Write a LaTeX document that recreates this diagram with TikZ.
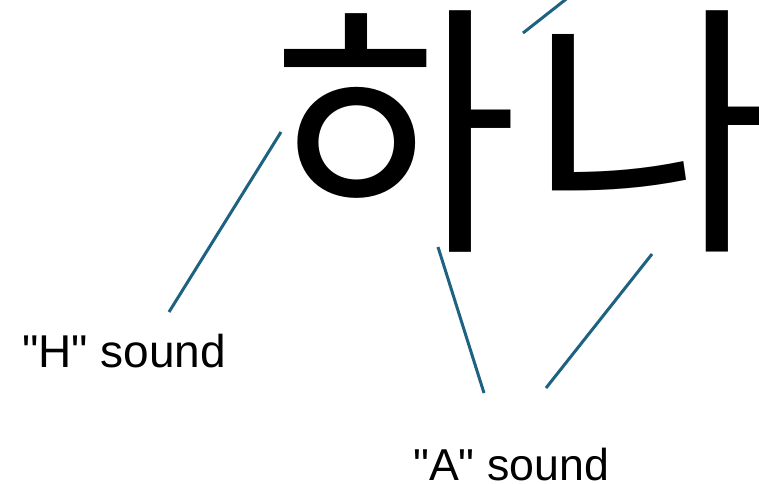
\documentclass[tikz,border=0pt]{standalone}
\usepackage{fontspec}
\setmainfont{Liberation Sans}
\newfontfamily\krfont{Noto Sans CJK KR}
\definecolor{leadc}{RGB}{30,98,130}
\tikzset{
  leader/.style={draw=leadc, line width=3pt},
  lbl/.style={inner sep=0pt, anchor=base west, font=\fontsize{44.7}{50}\selectfont},
  big/.style={inner sep=0pt, anchor=base west, font=\krfont\fontsize{267}{300}\selectfont}
}
\begin{document}
\begin{tikzpicture}[x=1pt,y=-1pt]
\useasboundingbox (0,0) rectangle (759,483);
\clip (0,0) rectangle (759,483);
\fill[white] (0,0) rectangle (759,483);
\node[big] (ha) at (272,231.5) {하};
\node[big] (na) at (529,231.5) {나};
\node[lbl, font=\fontsize{46}{50}\selectfont] (hlab) at (22,367) {\textquotedbl H\textquotedbl{} sound};
\node[lbl] (alab) at (413,480) {\textquotedbl A\textquotedbl{} sound};
\coordinate (h1) at (281,132);
\coordinate (h2) at (169,312);
\coordinate (a1) at (438,247);
\coordinate (a2) at (484,393);
\coordinate (a3) at (652,254);
\coordinate (a4) at (546,388);
\coordinate (n1) at (523,33);
\coordinate (n2) at (607,-33);
\draw[leader] (h1) -- (h2);
\draw[leader] (a1) -- (a2);
\draw[leader] (a3) -- (a4);
\draw[leader] (n1) -- (n2);
\end{tikzpicture}
\end{document}
